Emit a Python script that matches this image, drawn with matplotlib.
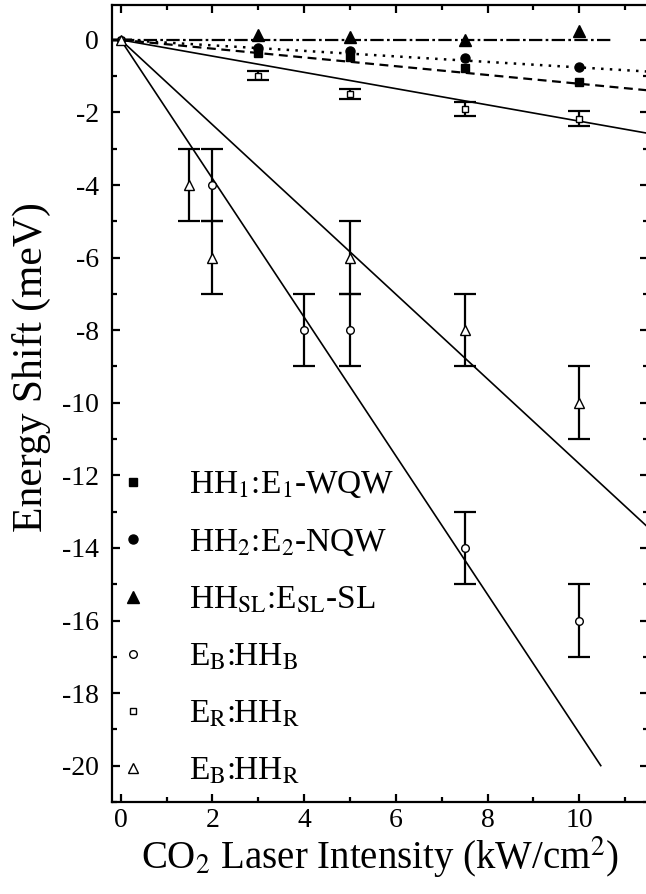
import matplotlib
matplotlib.use("Agg")
import matplotlib.pyplot as plt
import numpy as np

plt.rcParams['font.family'] = ['Liberation Serif', 'DejaVu Serif']
plt.rcParams['mathtext.fontset'] = 'stix'
plt.rcParams['axes.unicode_minus'] = False

# ---- data ----
x_filled = [3, 5, 7.5, 10]
y_hh1 = [-0.35, -0.48, -0.78, -1.17]
y_hh2 = [-0.22, -0.32, -0.50, -0.76]
y_hhsl = [0.14, 0.08, 0.0, 0.23]

x_eb_hhb = [0, 2, 4, 5, 7.5, 10]
y_eb_hhb = [0, -4, -8, -8, -14, -16]
e_eb_hhb = [0, 1, 1, 1, 1, 1]

x_er_hhr = [0, 3, 5, 7.5, 10]
y_er_hhr = [0, -0.99, -1.49, -1.9, -2.17]
e_er_hhr = [0, 0.12, 0.14, 0.2, 0.2]

x_eb_hhr = [0, 1.5, 2, 5, 7.5, 10]
y_eb_hhr = [0, -4, -6, -6, -8, -10]
e_eb_hhr = [0, 1, 1, 1, 1, 1]

# fit lines: (x_end, slope)
fit_hh1 = (11.5, -0.121)
fit_hh2 = (11.5, -0.076)
fit_hhsl = (10.7, 0.0)
fit_er_hhr = (11.5, -0.224)
fit_eb_hhb = (10.47, -1.91)
fit_eb_hhr = (11.5, -1.168)

labels = [r'HH$_1$:E$_1$-WQW', r'HH$_2$:E$_2$-NQW', r'HH$_{\mathrm{SL}}$:E$_{\mathrm{SL}}$-SL',
          r'E$_\mathrm{B}$:HH$_\mathrm{B}$', r'E$_\mathrm{R}$:HH$_\mathrm{R}$', r'E$_\mathrm{B}$:HH$_\mathrm{R}$']

fig = plt.figure(figsize=(6.46, 8.94), dpi=100)
ax = fig.add_axes([111.5/646, 92/894, 536.5/646, 797/894])

def fitline(fit, **kw):
    xe, s = fit
    xs = np.array([0, xe])
    ax.plot(xs, s*xs, color='black', **kw)

fitline(fit_hh1, lw=1.6, linestyle=(0, (4, 2.5)))
fitline(fit_hh2, lw=1.8, linestyle=(0, (1, 2.5)))
fitline(fit_hhsl, lw=1.6, linestyle=(0, (6, 1.5, 1.2, 1.5)))
fitline(fit_er_hhr, lw=1.2)
fitline(fit_eb_hhb, lw=1.2)
fitline(fit_eb_hhr, lw=1.2)

h1, = ax.plot(x_filled, y_hh1, 's', color='black', ms=6, linestyle='none')
h2, = ax.plot(x_filled, y_hh2, 'o', color='black', ms=6.5, linestyle='none')
h3, = ax.plot(x_filled, y_hhsl, '^', color='black', ms=8, linestyle='none')

ekw = dict(fmt='none', ecolor='black', elinewidth=1.6, capsize=8, capthick=1.6)
ax.errorbar(x_eb_hhb, y_eb_hhb, yerr=e_eb_hhb, **ekw)
ax.errorbar(x_er_hhr, y_er_hhr, yerr=e_er_hhr, **ekw)
ax.errorbar(x_eb_hhr, y_eb_hhr, yerr=e_eb_hhr, **ekw)

okw = dict(mfc='white', mec='black', mew=1.0, linestyle='none', color='black')
h4, = ax.plot(x_eb_hhb, y_eb_hhb, 'o', ms=5.5, **okw)
h5, = ax.plot(x_er_hhr, y_er_hhr, 's', ms=5, **okw)
h6, = ax.plot(x_eb_hhr, y_eb_hhr, '^', ms=6.5, **okw)

leg = ax.legend([h1, h2, h3, h4, h5, h6], labels, loc='lower left',
                bbox_to_anchor=(-0.029, -0.006), frameon=False, fontsize=24,
                handletextpad=1.2, labelspacing=0.8, handlelength=1.0,
                borderaxespad=0.2)

ax.set_xlim(-0.2, 11.5)
ax.set_ylim(-21, 0.96)
ax.set_xticks([0, 2, 4, 6, 8, 10])
ax.set_xticks(np.arange(0, 12, 1), minor=True)
ax.set_yticks(np.arange(-20, 1, 2))
ax.set_yticks(np.arange(-21, 1, 1), minor=True)
ax.tick_params(which='both', direction='in', top=True, right=True, width=1.6)
ax.tick_params(which='major', length=6, labelsize=20)
ax.tick_params(which='minor', length=3.5)
ax.tick_params(axis='y', pad=9)
ax.tick_params(axis='x', pad=4)
for sp in ax.spines.values():
    sp.set_linewidth(1.6)

ax.set_xlabel(r'CO$_2$ Laser Intensity (kW/cm$^2$)', fontsize=28)
ax.set_ylabel('Energy Shift (meV)', fontsize=30)
ax.xaxis.label.set_va('baseline')
ax.yaxis.label.set_va('baseline')
ax.xaxis.set_label_coords(0.50, -0.084)
ax.yaxis.set_label_coords(-0.13, 0.546)

fig.savefig('out.png', dpi=100)
